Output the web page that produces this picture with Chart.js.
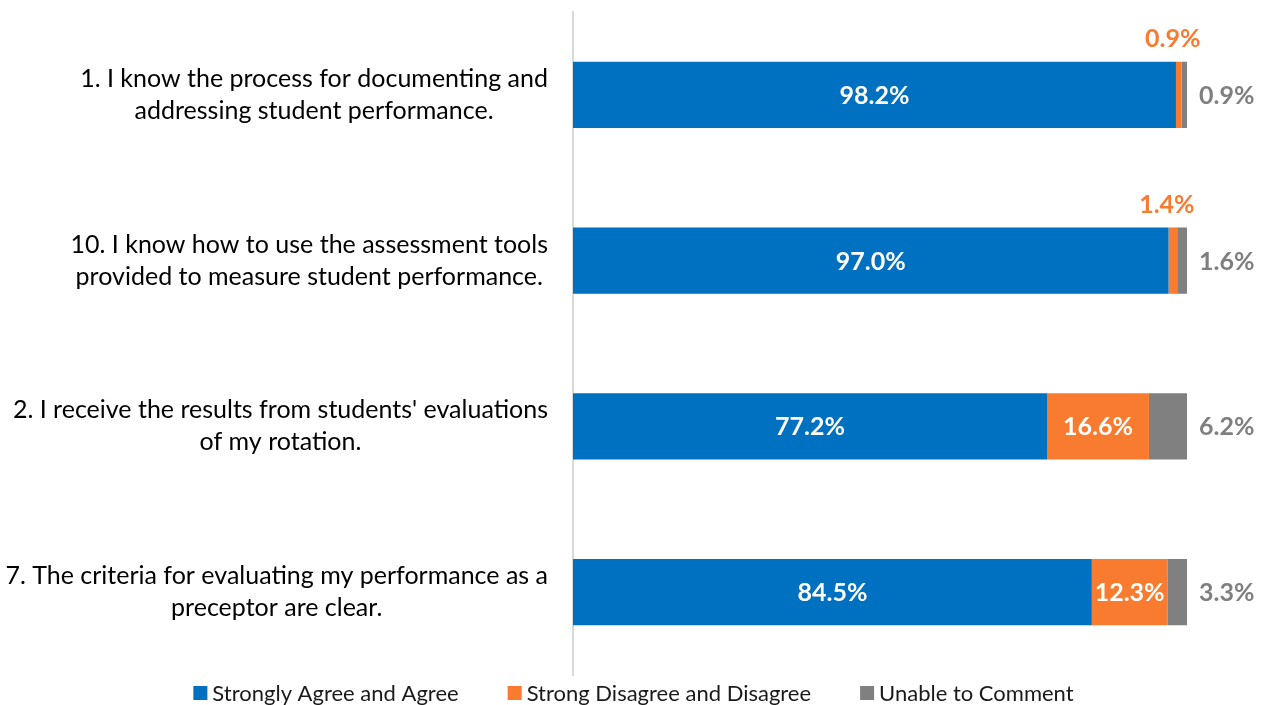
<!DOCTYPE html>
<html><head><meta charset="utf-8">
<script src="https://cdn.jsdelivr.net/npm/chart.js@4.4.0/dist/chart.umd.min.js"></script>
<style>html,body{margin:0;padding:0;background:#fff;overflow:hidden}#wrap{width:1264px;height:705px}</style>
</head><body><div id="wrap"><canvas id="c" width="1264" height="705"></canvas></div>
<script>
const categories = [
  ["1. I know the process for documenting and", "addressing student performance."],
  ["10. I know how to use the assessment tools", "provided to measure student performance."],
  ["2. I receive the results from students' evaluations", "of my rotation."],
  ["7. The criteria for evaluating my performance as a", "preceptor are clear."]
];
const seriesNames = ["Strongly Agree and Agree", "Strong Disagree and Disagree", "Unable to Comment"];
const agree = [98.2, 97.0, 77.2, 84.5];
const disagree = [0.9, 1.4, 16.6, 12.3];
const unable = [0.9, 1.6, 6.2, 3.3];

const COLORS = ['#0070C0', '#F87B2F', '#808080'];
const FONT = 'Lato, "Open Sans", sans-serif';

const labelPlugin = {
  id: 'customLabels',
  afterDatasetsDraw(chart) {
    const ctx = chart.ctx;
    ctx.save();
    ctx.font = 'bold 25px ' + FONT;
    ctx.textBaseline = 'middle';
    chart.data.datasets.forEach((ds, di) => {
      const meta = chart.getDatasetMeta(di);
      meta.data.forEach((el, i) => {
        const v = ds.data[i];
        const txt = v.toFixed(1) + '%';
        const p = el.getProps(['x', 'y', 'base', 'height'], true);
        const left = Math.min(p.x, p.base), right = Math.max(p.x, p.base);
        const w = right - left;
        const tw = ctx.measureText(txt).width;
        if (di === 2) {
          ctx.fillStyle = '#7F7F7F';
          ctx.textAlign = 'left';
          ctx.fillText(txt, chart.chartArea.right + 12, p.y + 1);
        } else if (w >= tw - 8) {
          ctx.fillStyle = '#FFFFFF';
          ctx.textAlign = 'center';
          ctx.fillText(txt, (left + right) / 2, p.y + 1);
        } else {
          ctx.fillStyle = COLORS[1];
          ctx.textAlign = 'center';
          ctx.fillText(txt, (left + right) / 2 - 6, p.y - p.height / 2 - 23);
        }
      });
    });
    ctx.restore();
  },
  afterDraw(chart) {
    const ctx = chart.ctx;
    const ys = chart.scales.y;
    ctx.save();
    // category labels: each block centred on itself, right edge near the axis
    ctx.font = '25px ' + FONT;
    ctx.fillStyle = '#000';
    ctx.textAlign = 'center';
    ctx.textBaseline = 'middle';
    const lh = 32;
    chart.data.labels.forEach((lines, i) => {
      const cy = ys.getPixelForValue(i);
      const bw = Math.max(...lines.map(l => ctx.measureText(l).width));
      const cx = chart.chartArea.left - 25 - bw / 2;
      lines.forEach((l, k) => {
        ctx.fillText(l, cx, cy + (k - (lines.length - 1) / 2) * lh);
      });
    });
    // legend
    ctx.font = '22px ' + FONT;
    ctx.textAlign = 'left';
    const box = 14, gapT = 5, gapI = 49;
    const items = chart.data.datasets.map((ds, di) => ({ text: ds.label, color: ds.backgroundColor, w: box + gapT + ctx.measureText(ds.label).width }));
    const total = items.reduce((s, it) => s + it.w, 0) + gapI * (items.length - 1);
    let x = 633.5 - total / 2;
    const ly = 693;
    items.forEach(it => {
      ctx.fillStyle = it.color;
      ctx.fillRect(x, ly - box / 2, box, box);
      ctx.fillStyle = '#1a1a1a';
      ctx.fillText(it.text, x + box + gapT, ly + 1);
      x += it.w + gapI;
    });
    ctx.restore();
  }
};

new Chart(document.getElementById('c'), {
  type: 'bar',
  data: {
    labels: categories,
    datasets: [
      { label: seriesNames[0], data: agree, backgroundColor: COLORS[0] },
      { label: seriesNames[1], data: disagree, backgroundColor: COLORS[1] },
      { label: seriesNames[2], data: unable, backgroundColor: COLORS[2] }
    ]
  },
  options: {
    indexAxis: 'y',
    responsive: false,
    devicePixelRatio: 1,
    animation: false,
    layout: { padding: { left: 0, right: 77, top: 12, bottom: 30 } },
    datasets: { bar: { categoryPercentage: 1, barPercentage: 0.4, borderWidth: 0 } },
    scales: {
      x: { stacked: true, display: false, min: 0, max: 100 },
      y: {
        stacked: true,
        grid: { display: false },
        ticks: { display: false },
        border: { display: true, color: '#D9D9D9', width: 2 },
        afterFit(scale) { scale.width = 573; }
      }
    },
    plugins: {
      tooltip: { enabled: false },
      legend: { display: false }
    }
  },
  plugins: [labelPlugin]
});
</script>
</body></html>
